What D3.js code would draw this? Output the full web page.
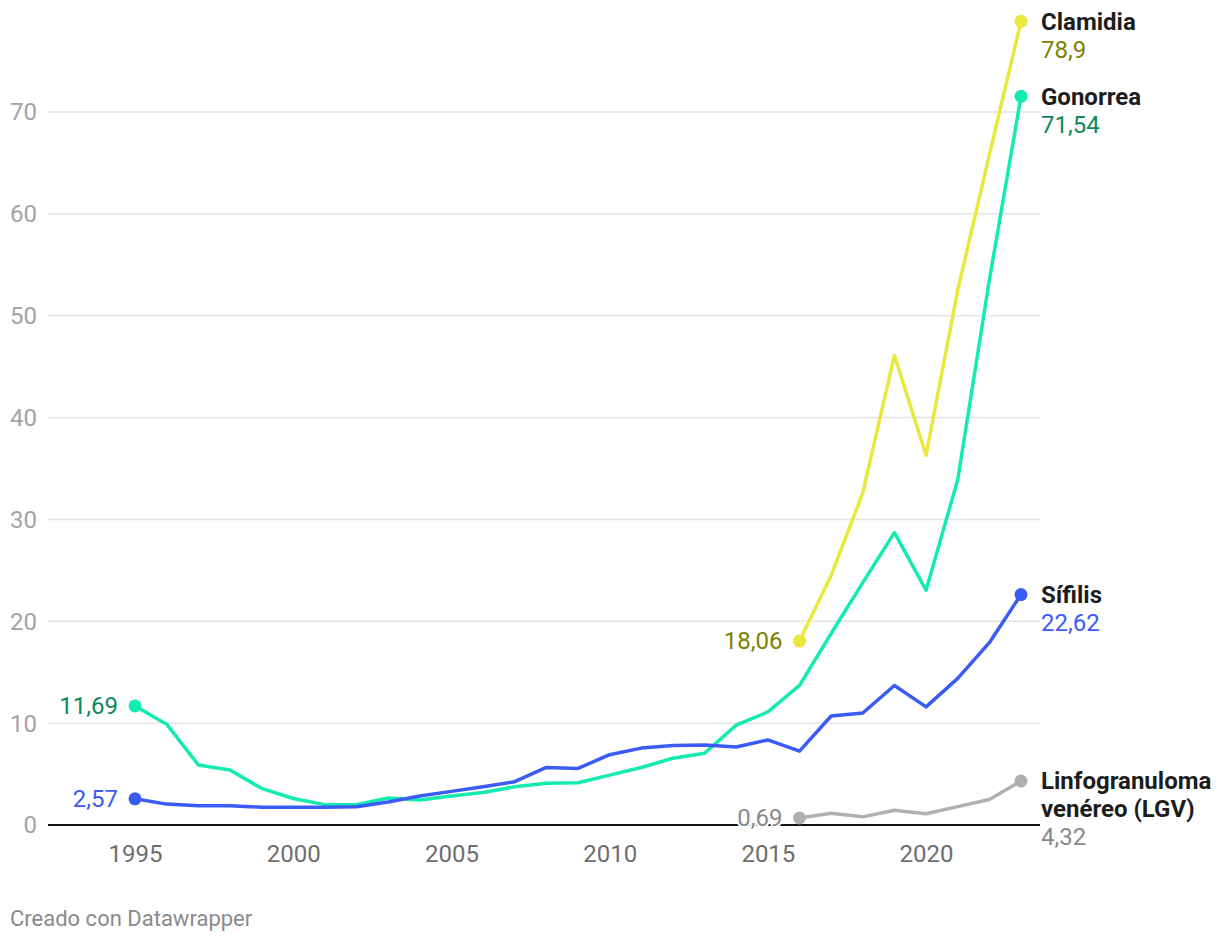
<!DOCTYPE html>
<html><head><meta charset="utf-8">
<script src="https://cdn.jsdelivr.net/npm/d3@7"></script>
<style>
body{margin:0;background:#fff;}
svg{font-family:Roboto,"Noto Sans",sans-serif;}
</style></head>
<body><svg id="c" width="1220" height="942"></svg>
<script>
const years = d3.range(1995, 2024);
const yearsLate = d3.range(2016, 2024);
const gonorrea = [11.69, 9.9, 5.9, 5.4, 3.6, 2.6, 2.0, 2.0, 2.65, 2.45, 2.85, 3.2, 3.75, 4.1, 4.15, 4.9, 5.65, 6.55, 7.05, 9.8, 11.1, 13.7, 18.8, 23.8, 28.7, 23.05, 33.9, 53.5, 71.54];
const sifilis = [2.57, 2.05, 1.9, 1.9, 1.75, 1.75, 1.75, 1.8, 2.25, 2.85, 3.3, 3.75, 4.25, 5.65, 5.55, 6.9, 7.55, 7.8, 7.85, 7.65, 8.35, 7.25, 10.7, 11.0, 13.7, 11.6, 14.4, 17.9, 22.62];
const clamidia = [18.06, 24.5, 32.6, 46.1, 36.3, 52.5, 65.8, 78.9];
const lgv = [0.69, 1.15, 0.8, 1.45, 1.1, 1.8, 2.5, 4.32];
const yTicks = [0, 10, 20, 30, 40, 50, 60, 70];
const xTicks = [1995, 2000, 2005, 2010, 2015, 2020];

const series = [
  {name:["Clamidia"], x:yearsLate, v:clamidia, line:"#eae83c", text:"#7f7f00", first:"18,06", last:"78,9"},
  {name:["Gonorrea"], x:years, v:gonorrea, line:"#14ebb0", text:"#0a8a5a", first:"11,69", last:"71,54"},
  {name:["Sífilis"], x:years, v:sifilis, line:"#3a5cf5", text:"#3a5cf5", first:"2,57", last:"22,62"},
  {name:["Linfogranuloma","venéreo (LGV)"], x:yearsLate, v:lgv, line:"#b0b0b0", text:"#8a8a8a", first:"0,69", last:"4,32"}
];

const svg = d3.select("#c");
const x = d3.scaleLinear().domain([1995, 2023]).range([135, 1021]);
const y = d3.scaleLinear().domain([0, 70]).range([825, 112]);
const left = 48, right = 1040;
const FS = 24;

// gridlines
svg.append("g").selectAll("line").data(yTicks.filter(d=>d>0)).join("line")
  .attr("x1", left).attr("x2", right).attr("y1", d=>y(d)).attr("y2", d=>y(d))
  .attr("stroke", "#e3e3e3").attr("stroke-width", 1.5);

// y tick labels
svg.append("g").selectAll("text").data(yTicks).join("text")
  .attr("x", 37).attr("y", d=>y(d)).attr("dy", "0.35em").attr("text-anchor", "end")
  .attr("font-size", FS).attr("fill", "#a3a3a3").text(d=>d);

// x axis
const xAxis = d3.axisBottom(x).tickValues(xTicks).tickSize(0).tickPadding(20).tickFormat(d3.format("d"));
const gx = svg.append("g").attr("transform", `translate(0,${y(0)})`).call(xAxis);
gx.select(".domain").remove();
gx.selectAll("text").attr("font-size", FS).attr("fill", "#6e6e6e").attr("font-family", "Roboto");

const line = d3.line().x(d=>x(d[0])).y(d=>y(d[1]));

series.forEach(s => {
  const pts = s.x.map((yr,i)=>[yr, s.v[i]]);
  svg.append("path").datum(pts).attr("d", line).attr("fill", "none")
    .attr("stroke", s.line).attr("stroke-width", 3.5).attr("stroke-linejoin", "round").attr("stroke-linecap","round");
});

// zero baseline
svg.append("line").attr("x1", left).attr("x2", right).attr("y1", y(0)).attr("y2", y(0))
  .attr("stroke", "#111").attr("stroke-width", 2);

series.forEach(s => {
  const n = s.v.length;
  const f = [s.x[0], s.v[0]], l = [s.x[n-1], s.v[n-1]];
  svg.append("circle").attr("cx", x(f[0])).attr("cy", y(f[1])).attr("r", 6.5).attr("fill", s.line);
  svg.append("circle").attr("cx", x(l[0])).attr("cy", y(l[1])).attr("r", 6.5).attr("fill", s.line);
  // first value label
  svg.append("text").attr("x", x(f[0]) - 17).attr("y", y(f[1])).attr("dy", "0.35em")
    .attr("text-anchor", "end").attr("font-size", FS).attr("fill", s.text)
    .attr("stroke", "#fff").attr("stroke-width", 4).attr("paint-order", "stroke")
    .text(s.first);
  // right labels
  const lx = 1041, ly = y(l[1]);
  s.name.forEach((nm, i) => {
    svg.append("text").attr("x", lx).attr("y", ly + i*28).attr("dy", "0.35em")
      .attr("font-size", FS).attr("font-weight", "bold").attr("fill", "#1d1d1d").text(nm);
  });
  svg.append("text").attr("x", lx).attr("y", ly + s.name.length*28).attr("dy", "0.35em")
    .attr("font-size", FS).attr("fill", s.text).text(s.last);
});

svg.append("text").attr("x", 10).attr("y", 918).attr("dy", "0.35em")
  .attr("font-size", 22).attr("fill", "#8a8a8a").text("Creado con Datawrapper");
</script></body></html>
